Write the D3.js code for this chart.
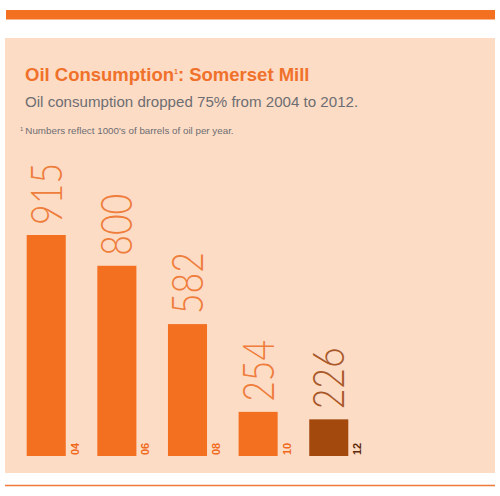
<!DOCTYPE html>
<html>
<head>
<meta charset="utf-8">
<script src="https://cdn.jsdelivr.net/npm/d3@7"></script>
<style>
  body { margin: 0; background: #fff; }
  svg { display: block; }
</style>
</head>
<body>
<div class="chart"></div>
<script>
// oil consumption bars, Somerset Mill

var years = ["04", "06", "08", "10", "12"];
var values = [915, 800, 582, 254, 226];
var barColors = ["#f37021", "#f37021", "#f37021", "#f37021", "#a4490e"];
var numColors = ["#ef7d3b", "#ef7d3b", "#ef7d3b", "#ef7d3b", "#a9582a"];
var yearColors = ["#f06a1c", "#f06a1c", "#f06a1c", "#f06a1c", "#5e2a0a"];

var width = 500,
    height = 496,
    baseY = 456;

var svg = d3.select(".chart").append("svg")
    .attr("width", width)
    .attr("height", height);

// top stripe, panel, bottom rule
svg.append("rect")
    .attr("x", 6).attr("y", 10)
    .attr("width", 489).attr("height", 9.5)
    .attr("fill", "#f37021");

svg.append("rect")
    .attr("x", 5).attr("y", 38)
    .attr("width", 490).attr("height", 435)
    .attr("fill", "#fddcc6");

svg.append("line")
    .attr("x1", 5).attr("x2", 495)
    .attr("y1", 485.5).attr("y2", 485.5)
    .attr("stroke", "#f07a3a")
    .attr("stroke-width", 1.5);

// headings
var title = svg.append("text")
    .attr("x", 25).attr("y", 81)
    .attr("font-family", "Liberation Sans, Arial, sans-serif")
    .attr("font-weight", "bold")
    .attr("font-size", 18.5)
    .attr("fill", "#f0712a");
title.append("tspan").text("Oil Consumption");
title.append("tspan").attr("font-size", 7).attr("dy", -7).text("1");
title.append("tspan").attr("dy", 7).text(": Somerset Mill");

svg.append("text")
    .attr("x", 25).attr("y", 107)
    .attr("font-family", "Liberation Sans, Arial, sans-serif")
    .attr("font-size", 15.1)
    .attr("fill", "#6d6e71")
    .text("Oil consumption dropped 75% from 2004 to 2012.");

var note = svg.append("text")
    .attr("x", 20).attr("y", 134)
    .attr("font-family", "Liberation Sans, Arial, sans-serif")
    .attr("font-size", 9.8)
    .attr("fill", "#6d6e71");
note.append("tspan").attr("font-size", 6).attr("dy", -3).text("1");
note.append("tspan").attr("dy", 3).attr("dx", 2).text("Numbers reflect 1000's of barrels of oil per year.");

// scales
var x = d3.scaleBand()
    .domain(years)
    .range([26.7, 348.3])
    .paddingInner(0.447);

var y = d3.scaleLinear()
    .domain([89, 915])
    .range([baseY, 235]);

var data = years.map(function(d, i) {
  return {year: d, value: values[i], i: i};
});

var bars = svg.selectAll("g.bar")
    .data(data)
  .enter().append("g")
    .attr("class", "bar");

bars.append("rect")
    .attr("x", function(d) { return x(d.year); })
    .attr("y", function(d) { return y(d.value); })
    .attr("width", x.bandwidth())
    .attr("height", function(d) { return baseY - y(d.value); })
    .attr("fill", function(d) { return barColors[d.i]; });

// big thin value labels, rotated
bars.append("text")
    .attr("transform", function(d) {
      return "translate(" + (x(d.year) + x.bandwidth() - 4) + "," + (y(d.value) - 10) + ") rotate(-90) scale(0.83,1)";
    })
    .attr("font-family", "Lato, Roboto, sans-serif")
    .attr("font-weight", 300)
    .attr("font-size", 43)
    .attr("fill", function(d) { return numColors[d.i]; })
    .text(function(d) { return d.value; });

// year labels beside each bar
bars.append("text")
    .attr("transform", function(d) {
      return "translate(" + (x(d.year) + x.bandwidth() + 13) + "," + (baseY - 1) + ") rotate(-90)";
    })
    .attr("font-family", "Liberation Sans, Arial, sans-serif")
    .attr("font-weight", "bold")
    .attr("font-size", 11)
    .attr("fill", function(d) { return yearColors[d.i]; })
    .text(function(d) { return d.year; });
</script>
</body>
</html>
